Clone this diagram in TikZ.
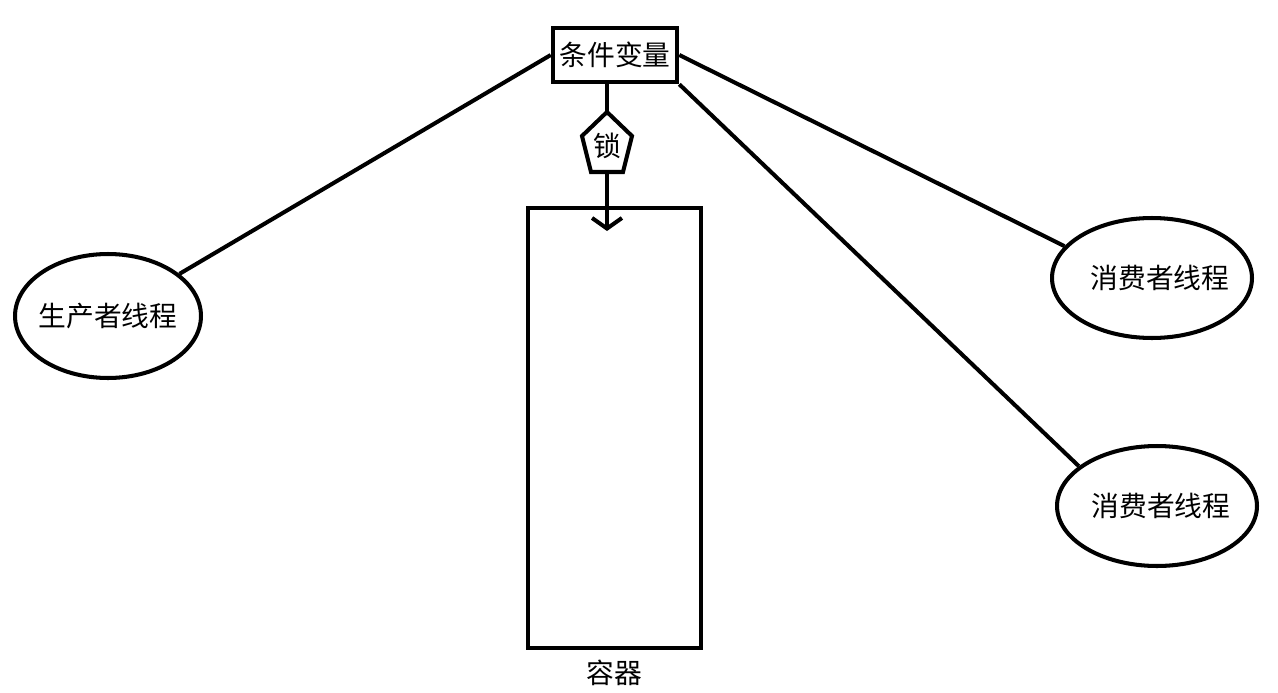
\documentclass[tikz,border=0pt]{standalone}
\usepackage{fontspec}
\setmainfont{Noto Sans CJK SC}
\usetikzlibrary{arrows.meta,positioning,shapes.geometric}

\begin{document}
\begin{tikzpicture}[
    x=0.02cm, y=-0.02cm,
    txt/.style={font=\fontsize{15.8}{18}\selectfont},
    cvbox/.style={
      draw,
      line width=2.6pt,
      minimum width=2.48cm,
      minimum height=1.08cm,
      inner sep=0pt,
      txt
    },
    thread/.style={
      draw,
      ellipse,
      line width=2.3pt,
      inner sep=0pt,
      txt
    },
    store/.style={
      draw,
      line width=2.6pt,
      minimum width=3.46cm,
      minimum height=8.8cm
    },
    link/.style={line width=2.3pt},
    arrow/.style={link, -{Straight Barb[length=6pt,width=17pt]}}
  ]
    \useasboundingbox[fill=white] (0,0) rectangle (1278,693);

    \node[cvbox] (cv) at (615,55) {条件变量};

    % lock on the way down
    \node[txt, inner sep=0pt] (lock) at (607,146) {锁};
    \draw[link, line join=miter]
      (607,112) -- (632,136) -- (623,172) -- (591,172) -- (582,136) -- cycle;
    \coordinate (locktop) at (607,112);
    \coordinate (lockbot) at (607,172);
    \coordinate (tip) at (607,231);

    \node[store] (box) at (614.5,428) {};
    \node[txt, below=0.08cm of box] (boxlabel) {容器};

    \node[thread, minimum width=3.72cm, minimum height=2.48cm]
      (prod) at (108,316) {\makebox[0pt]{生产者线程}};
    \node[thread, minimum width=4.0cm, minimum height=2.4cm]
      (consA) at (1152,278) {\makebox[0pt]{\hspace{0.32cm}消费者线程}};
    \node[thread, minimum width=4.0cm, minimum height=2.4cm]
      (consB) at (1157,506) {\makebox[0pt]{\hspace{0.16cm}消费者线程}};

    \draw[link] (cv.south -| locktop) -- (locktop);
    \draw[arrow] (lockbot) -- (tip);
    \draw[link] (cv.west) -- (prod);
    \draw[link] (cv.east) -- (consA.160);
    \draw[link] (cv.south east) -- (consB.153);
  \end{tikzpicture}
\end{document}
